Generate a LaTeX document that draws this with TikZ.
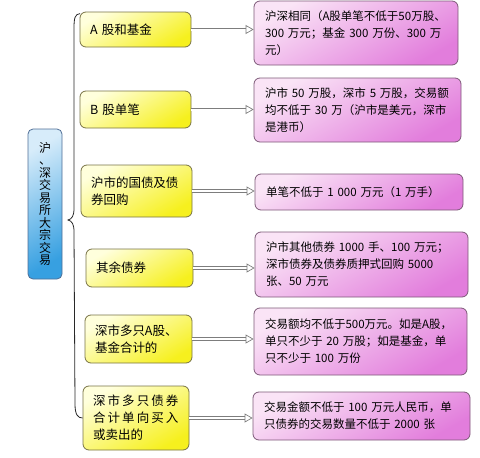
\documentclass[tikz,border=0pt]{standalone}
\usepackage{fontspec}
\setmainfont{Noto Sans CJK SC}
\usetikzlibrary{arrows.meta, positioning, calc}
\definecolor{mydark}{RGB}{40,40,40}
\definecolor{myolive}{RGB}{120,115,70}
\definecolor{hdryellow}{RGB}{255,255,220}
\definecolor{deepyellow}{RGB}{246,240,30}
\definecolor{myplum}{RGB}{125,90,120}
\definecolor{hdrpink}{RGB}{250,228,246}
\definecolor{deeppink}{RGB}{226,125,220}
\definecolor{myblue}{RGB}{80,110,150}
\definecolor{hdrblue}{RGB}{215,236,250}
\definecolor{deepblue}{RGB}{55,160,225}
\definecolor{mygray}{RGB}{125,125,125}
\tikzset{
  rootbox/.style={rectangle, draw=myblue, top color=hdrblue, bottom color=deepblue,
    shading angle=30, rounded corners=5pt, line width=0.8pt, inner sep=0pt,
    align=center, font=\fontsize{12}{12.5}\selectfont},
  catbox/.style={rectangle, draw=myolive, top color=hdryellow, bottom color=deepyellow,
    shading angle=30, rounded corners=6pt, line width=0.8pt, inner sep=0pt,
    align=left, font=\fontsize{12.5}{17}\selectfont},
  rulebox/.style={rectangle, draw=myplum, top color=hdrpink, bottom color=deeppink,
    shading angle=30, rounded corners=6pt, line width=0.8pt, inner sep=0pt,
    align=left, font=\fontsize{11.5}{17}\selectfont},
  flowarrow/.style={draw=mygray, double=white, double distance=2pt, line width=0.7pt,
    -{Triangle[open, length=8pt, width=9pt]}},
  brace/.style={draw=mydark, line width=0.8pt}
}

\begin{document}
\begin{tikzpicture}[x=1pt, y=-1pt]
  \useasboundingbox (0,0) rectangle (480,458);

  \node[rootbox, minimum width=34pt, minimum height=150pt] (root) at (45,204)
    {沪\\、\\深\\交\\易\\所\\大\\宗\\交\\易};

  % left column
  \node[catbox, minimum width=111pt, minimum height=35pt, text width=91pt] (y1) at (135.5,29.5)
    {A 股和基金};
  \node[catbox, minimum width=111pt, minimum height=37pt, text width=91pt] (y2) at (135.5,109.5)
    {B 股单笔};
  \node[catbox, minimum width=111pt, minimum height=52pt, text width=91pt] (y3) at (136.5,191)
    {沪市的国债及债\\券回购};
  \node[catbox, minimum width=107pt, minimum height=38pt, text width=87pt] (y4) at (139.5,268)
    {其余债券};
  \node[catbox, minimum width=107pt, minimum height=48pt, text width=87pt] (y5) at (138.5,339)
    {深市多只A股、\\基金合计的};
  \node[catbox, minimum width=106pt, minimum height=64pt, text width=86pt] (y6) at (136,418)
    {深\,市\,多\,只\,债\,券\\合\,计\,单\,向\,买\,入\\或卖出的};

  % right column
  \node[rulebox, minimum width=204pt, minimum height=64pt, text width=182pt] (p1) at (356,33)
    {沪深相同（A股单笔不低于50万股、\\300~万元；基金~300~万份、300~万\\元）};
  \node[rulebox, minimum width=207pt, minimum height=64pt, text width=185pt] (p2) at (357.5,110)
    {沪市~50~万股，深市~5~万股，交易额\\均不低于~30~万（沪市是美元，深市\\是港币）};
  \node[rulebox, minimum width=208pt, minimum height=36pt, text width=186pt] (p3) at (359,192)
    {单笔不低于~1~000~万元（1~万手）};
  \node[rulebox, minimum width=213pt, minimum height=65pt, text width=191pt] (p4) at (361.5,264.5)
    {沪市其他债券~1000~手、100~万元；\\深市债券及债券质押式回购~5000\\张、50~万元};
  \node[rulebox, minimum width=213pt, minimum height=67pt, text width=191pt] (p5) at (360.5,341.5)
    {交易额均不低于500万元。如是A股，\\单只不少于~20~万股；如是基金，单\\只不少于~100~万份};
  \node[rulebox, minimum width=217pt, minimum height=48pt, text width=195pt] (p6) at (361.5,416)
    {交易金额不低于~100~万元人民币，单\\只债券的交易数量不低于~2000~张};

  % brace
  \coordinate (tip) at (68,220);
  \draw[brace] ([xshift=0.5pt,yshift=-2pt]y1.north west) .. controls (75,14) and (74,18) .. (74,28)
    -- (74,208) .. controls (74,216) and (72,219) .. (tip)
    .. controls (72,221) and (74,224) .. (74,232)
    -- (75,404) .. controls (75,415) and (78,418) .. (y6.west);

  % connectors
  \draw[flowarrow] (y1.east) -- (y1.east -| p1.west);
  \draw[flowarrow] (y2.east) -- (y2.east -| p2.west);
  \draw[flowarrow] (y3.east) -- (y3.east -| p3.west);
  \draw[flowarrow] (y4.east) -- (y4.east -| p4.west);
  \draw[flowarrow] (y5.east) -- (y5.east -| p5.west);
  \draw[flowarrow] (y6.east) -- (y6.east -| p6.west);
\end{tikzpicture}
\end{document}
